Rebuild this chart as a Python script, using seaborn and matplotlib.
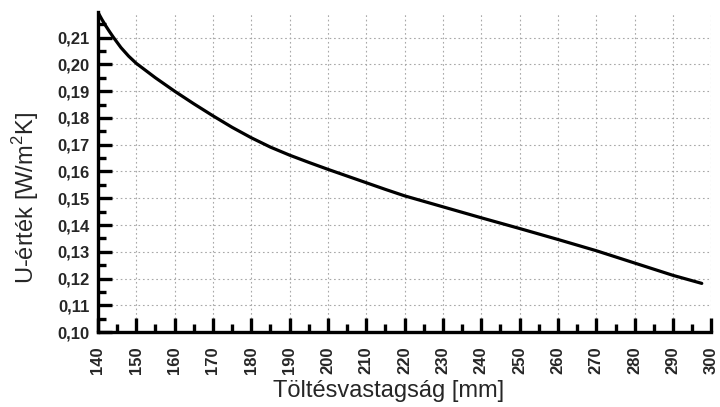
import matplotlib
matplotlib.use("Agg")
import matplotlib.pyplot as plt
import seaborn as sns
import pandas as pd
from matplotlib.ticker import MultipleLocator, FuncFormatter

thickness = [140, 141, 142, 143, 144, 146, 148, 150, 155, 160, 165, 170, 175, 180,
             185, 190, 195, 200, 205, 210, 215, 220, 230, 240, 250, 260, 270, 280,
             290, 297.5]
u_value = [0.2195, 0.2169, 0.2145, 0.2123, 0.2102, 0.2063, 0.2031, 0.2004, 0.1950,
           0.1900, 0.1853, 0.1808, 0.1765, 0.1726, 0.1691, 0.1661, 0.1634, 0.1608,
           0.1583, 0.1558, 0.1533, 0.1509, 0.1468, 0.1427, 0.1387, 0.1346, 0.1304,
           0.1258, 0.1212, 0.1182]
x_ticks = list(range(140, 301, 10))
y_ticks = [0.10, 0.11, 0.12, 0.13, 0.14, 0.15, 0.16, 0.17, 0.18, 0.19, 0.20, 0.21]

df = pd.DataFrame({"x": thickness, "u": u_value})

sns.set_style("white")
plt.rcParams['font.family'] = ['Liberation Sans', 'DejaVu Sans']
plt.rcParams['mathtext.fontset'] = 'custom'
plt.rcParams['mathtext.rm'] = 'Liberation Sans'

fig = plt.figure(figsize=(7.2, 4.07), dpi=100)
ax = fig.add_axes([0.136, 0.184, 0.852, 0.786])

sns.lineplot(data=df, x="x", y="u", ax=ax, color="black", linewidth=2.3)

ax.set_xlim(140, 300)
ax.set_ylim(0.10, 0.2195)
ax.set_xticks(x_ticks)
ax.set_yticks(y_ticks)
ax.xaxis.set_minor_locator(MultipleLocator(5))
ax.yaxis.set_minor_locator(MultipleLocator(0.005))
ax.yaxis.set_major_formatter(FuncFormatter(lambda v, p: f"{v:.2f}".replace(".", ",")))

ax.grid(True, which="major", color="#a8a8a8", linestyle=(0, (1.5, 2.5)), linewidth=0.8)
ax.set_axisbelow(True)

for s in ["top", "right"]:
    ax.spines[s].set_visible(False)
for s in ["left", "bottom"]:
    ax.spines[s].set_linewidth(2.4)
    ax.spines[s].set_color("black")

ax.tick_params(axis="both", which="both", bottom=True, left=True, top=False, right=False)
ax.tick_params(axis="both", which="major", direction="in", length=10, width=2.4,
               color="black", labelsize=12)
ax.tick_params(axis="both", which="minor", direction="in", length=5.5, width=2.4,
               color="black")
plt.setp(ax.get_xticklabels(), rotation=90, fontweight="bold")
plt.setp(ax.get_yticklabels(), fontweight="bold")
ax.tick_params(axis="y", which="major", pad=6)
ax.tick_params(axis="x", which="major", pad=10)

ax.set_xlabel("Töltésvastagság [mm]", fontsize=17)
ax.set_ylabel("U-érték [W/m$^\\mathregular{2}$K]", fontsize=17)
ax.xaxis.set_label_coords(0.473, -0.150)
ax.yaxis.set_label_coords(-0.093, 0.42)

fig.savefig("out.png", dpi=100, facecolor="white")
